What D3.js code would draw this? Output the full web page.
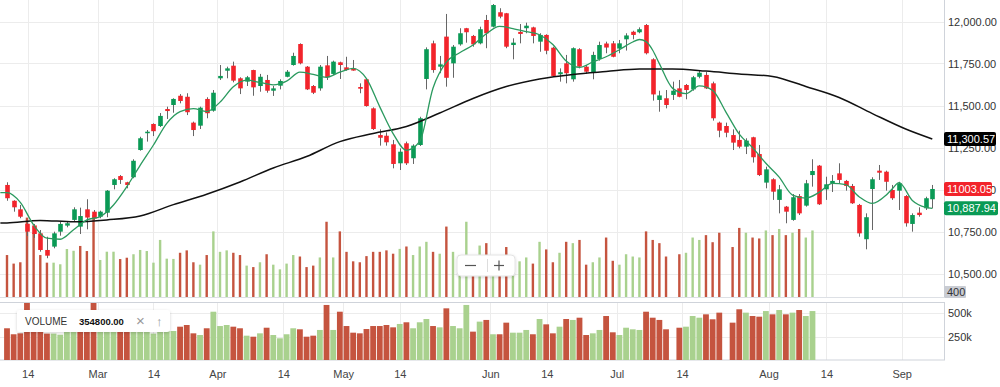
<!DOCTYPE html>
<html>
<head>
<meta charset="utf-8">
<script src="https://cdn.jsdelivr.net/npm/d3@7.9.0/dist/d3.min.js"></script>
<style>
  body { margin: 0; background: #fff; }
  svg { display: block; font-family: "Liberation Sans", Arial, sans-serif; }
</style>
</head>
<body>
<svg id="chart" width="1000" height="387"></svg>
<script>
const open = [
  11027, 10933, 10882, 10796, 10786, 10739, 10640, 10660, 10749, 10785,
  10819, 10779, 10882, 10868, 10838, 10862, 11027, 11080, 11043, 11073,
  11235, 11335, 11390, 11378, 11479, 11503, 11558, 11552, 11398, 11380,
  11539, 11469, 11662, 11707, 11737, 11662, 11642, 11711, 11616, 11652,
  11588, 11618, 11671, 11741, 11866, 11731, 11616, 11602, 11739, 11688,
  11757, 11727, 11721, 11610, 11656, 11483, 11324, 11320, 11269, 11156,
  11275, 11186, 11265, 11658, 11870, 11731, 11910, 11751, 11864, 11960,
  11914, 11870, 12009, 11969, 12055, 12049, 11860, 11938, 11960, 11965,
  11880, 11920, 11844, 11686, 11751, 11656, 11835, 11731, 11695, 11777,
  11869, 11870, 11839, 11894, 11939, 11936, 11979, 11775, 11533, 11543,
  11563, 11602, 11622, 11596, 11671, 11682, 11632, 11398, 11378, 11324,
  11295, 11255, 11311, 11211, 11041, 11061, 10938, 10898, 10819, 10961,
  10904, 11086, 11142, 11001, 11037, 11096, 11051, 11021, 10908, 10704,
  11003, 11112, 11106, 10997, 10993, 10961, 10795, 10862, 10888, 10942
];
const high = [
  11043, 10936, 10908, 10813, 10795, 10759, 10719, 10749, 10808, 10808,
  10894, 10892, 10942, 10878, 10874, 10997, 11067, 11086, 11046, 11180,
  11314, 11354, 11394, 11455, 11493, 11543, 11568, 11573, 11404, 11493,
  11549, 11592, 11741, 11731, 11761, 11668, 11676, 11713, 11688, 11682,
  11616, 11656, 11711, 11814, 11870, 11735, 11622, 11741, 11795, 11767,
  11761, 11790, 11771, 11632, 11660, 11489, 11358, 11340, 11295, 11245,
  11285, 11269, 11433, 11846, 11886, 11795, 12045, 11860, 11960, 11962,
  11920, 11969, 12039, 12104, 12079, 12051, 11900, 11985, 11993, 11969,
  11930, 11924, 11850, 11721, 11801, 11846, 11841, 11741, 11820, 11880,
  11880, 11884, 11890, 11930, 11945, 11965, 11985, 11781, 11588, 11592,
  11642, 11652, 11628, 11676, 11707, 11699, 11642, 11404, 11398, 11358,
  11350, 11305, 11314, 11265, 11136, 11067, 11027, 10902, 10973, 10973,
  11057, 11180, 11146, 11076, 11086, 11156, 11057, 11033, 10914, 10858,
  11073, 11146, 11112, 11027, 11046, 10967, 10858, 10894, 10957, 11027
];
const low = [
  10933, 10868, 10829, 10723, 10712, 10630, 10591, 10650, 10725, 10775,
  10808, 10735, 10763, 10819, 10829, 10835, 11001, 11033, 11007, 11067,
  11231, 11285, 11318, 11372, 11420, 11457, 11513, 11443, 11318, 11360,
  11424, 11463, 11652, 11662, 11638, 11568, 11616, 11558, 11582, 11576,
  11557, 11596, 11668, 11737, 11745, 11592, 11568, 11588, 11652, 11682,
  11658, 11707, 11707, 11573, 11493, 11354, 11261, 11261, 11126, 11116,
  11146, 11152, 11259, 11596, 11695, 11692, 11612, 11665, 11856, 11874,
  11850, 11864, 11841, 11965, 12019, 11841, 11775, 11870, 11930, 11870,
  11820, 11805, 11672, 11642, 11632, 11642, 11721, 11688, 11656, 11767,
  11811, 11787, 11811, 11827, 11894, 11930, 11804, 11529, 11463, 11483,
  11533, 11549, 11537, 11588, 11662, 11598, 11410, 11311, 11311, 11235,
  11245, 11211, 11160, 11080, 11007, 10938, 10858, 10799, 10814, 10848,
  10898, 11017, 10908, 10938, 10985, 11037, 10993, 10914, 10719, 10644,
  10759, 11057, 10993, 10938, 10878, 10779, 10749, 10838, 10878, 10888
];
const close = [
  10948, 10894, 10838, 10749, 10735, 10640, 10606, 10739, 10795, 10799,
  10882, 10842, 10833, 10827, 10868, 10993, 11061, 11057, 11027, 11171,
  11305, 11344, 11347, 11438, 11467, 11539, 11527, 11460, 11354, 11487,
  11454, 11576, 11676, 11721, 11648, 11602, 11668, 11608, 11671, 11588,
  11602, 11646, 11701, 11795, 11751, 11596, 11576, 11731, 11668, 11761,
  11741, 11711, 11708, 11600, 11497, 11360, 11308, 11281, 11152, 11225,
  11156, 11261, 11424, 11835, 11711, 11745, 11665, 11850, 11930, 11936,
  11864, 11954, 11930, 12098, 12029, 11850, 11874, 11926, 11975, 11914,
  11920, 11826, 11676, 11698, 11692, 11841, 11731, 11701, 11801, 11860,
  11845, 11790, 11870, 11917, 11920, 11954, 11811, 11566, 11560, 11503,
  11588, 11552, 11592, 11668, 11695, 11602, 11424, 11350, 11338, 11279,
  11255, 11291, 11192, 11086, 11120, 10987, 11001, 10868, 10954, 10858,
  11037, 11110, 10912, 11031, 11051, 11057, 11021, 10918, 10739, 10835,
  11061, 11100, 11046, 10948, 11037, 10799, 10848, 10848, 10948, 11003.05
];
// volume in thousands, null where no bar is drawn
const volumeK = [
  340, 276, 286, 620, 505, 340, 283, 283, 271, 385,
  372, 408, 370, 640, 303, 365, 365, 310, 320, 346,
  378, 370, 283, 453, 313, 311, 357, 375, 286, 268,
  340, 517, 364, 375, 357, 340, 261, 250, 286, 346,
  268, 233, 276, 340, 329, 250, 261, 322, 589, 322,
  517, 364, 293, 286, 332, 364, 364, 375, 350, 386,
  404, 340, 404, 439, 364, 350, 553, 364, 340, 589,
  304, 411, 429, 276, 276, 400, 293, 293, 322, 276,
  439, 382, 286, 357, 439, 429, 453, 268, 286, 322,
  471, 297, 268, 346, 329, 322, 517, 453, 429, 329,
  null, 346, 357, 471, 453, 489, 436, 507, null, 400,
  543, 507, 471, 464, 524, 489, 535, 489, 507, 535,
  471, 524
];

// short moving average (green), read at bar indices
const fastIdx = [-1, 0, 2, 4, 6, 8, 10, 12, 14, 16, 18, 20, 22, 24, 26, 28, 30, 32, 34, 36, 38,
  40, 42, 44, 46, 48, 50, 52, 54, 56, 58, 60, 62, 64, 66, 68, 70, 72, 74, 76, 78,
  80, 82, 84, 86, 88, 90, 92, 94, 95, 96, 97, 98, 100, 102, 104, 106, 108, 110, 112, 114, 116, 118,
  120, 122, 124, 126, 128, 130, 132, 133, 134, 136, 138, 139];
const fastVal = [10981, 10981, 10923, 10789, 10710, 10704, 10760, 10819, 10839, 10908, 11017, 11144, 11265, 11394, 11464, 11481, 11464, 11520, 11612, 11651, 11637,
  11623, 11645, 11699, 11685, 11668, 11698, 11721, 11660, 11492, 11333, 11233, 11286, 11604, 11758, 11814, 11860, 11927, 11971, 11958, 11940,
  11921, 11863, 11765, 11727, 11759, 11790, 11832, 11878, 11893, 11880, 11829, 11749, 11602, 11571, 11617, 11590, 11461, 11329, 11249, 11156, 11074, 10967,
  10949, 10983, 11037, 11029, 10957, 10917, 10964, 11005, 11041, 10935, 10894, 10887.94];

// long moving average (black)
const slowIdx = [-1, 0, 5, 10, 15, 20, 25, 30, 35, 40, 45, 50, 55, 60, 65, 70, 75, 80, 85, 90,
  95, 100, 105, 110, 115, 120, 125, 130, 135, 139];
const slowVal = [10800, 10801, 10816, 10808, 10819, 10842, 10910, 10972, 11045, 11128, 11196, 11285, 11333, 11375, 11455, 11542, 11613, 11658, 11685, 11702,
  11717, 11717, 11705, 11688, 11673, 11613, 11548, 11452, 11360, 11300.57];

const priceTicks = [10500, 10750, 11000, 11250, 11500, 11750, 12000];
const volTicks = [250, 500];
const timeTickIdx = [3.1, 13.6, 22.0, 31.6, 41.5, 50.5, 59.0, 72.6, 81.1, 91.6, 101.4, 114.4, 123.1, 134.4];
const timeTickLabels = ['14', 'Mar', '14', 'Apr', '14', 'May', '14', 'Jun', '14', 'Jul', '14', 'Aug', '14', 'Sep'];

const plotRight = 944;
const mainBottom = 297;
const volTop = 303;
const volBottom = 360;

const upCandle = '#0a9a55';
const downCandle = '#f2242b';
const upVol = '#a9d18e';
const downVol = '#c5543f';

const svg = d3.select('#chart');

let x = d3.scaleLinear().domain([0, close.length - 1]).range([7, 932.3]);
let y = d3.scaleLinear().domain([10500, 12000]).range([273.5, 21.5]);
let vOverlay = d3.scaleLinear().domain([0, 650]).range([300.5, 213.6]);
let vPane = d3.scaleLinear().domain([0, 500]).range([360.1, 313.3]);

let bars = close.map((c, i) => ({
  i, o: open[i], h: high[i], l: low[i], c,
  v: volumeK[i] == null ? null : volumeK[i],
  volUp: i === 0 ? c >= open[i] : c >= close[i - 1]
}));

let defs = svg.append('defs');
defs.append('clipPath').attr('id', 'clip-main')
  .append('rect').attr('x', 0).attr('y', 0).attr('width', plotRight).attr('height', mainBottom);
defs.append('clipPath').attr('id', 'clip-vol')
  .append('rect').attr('x', 0).attr('y', volTop).attr('width', plotRight).attr('height', volBottom - volTop);
let shadow = defs.append('filter').attr('id', 'shadow').attr('x', '-20%').attr('y', '-40%').attr('width', '140%').attr('height', '180%');
shadow.append('feDropShadow').attr('dx', 0).attr('dy', 1).attr('stdDeviation', 1.5).attr('flood-color', '#000').attr('flood-opacity', 0.18);

// grid
let grid = svg.append('g').attr('stroke', '#ececec').attr('stroke-width', 1);
grid.selectAll('.hg').data(priceTicks).join('line')
  .attr('x1', 0).attr('x2', plotRight)
  .attr('y1', d => Math.round(y(d)) + 0.5).attr('y2', d => Math.round(y(d)) + 0.5);
grid.selectAll('.vg').data(timeTickIdx).join('line')
  .attr('x1', d => Math.round(x(d)) + 0.5).attr('x2', d => Math.round(x(d)) + 0.5)
  .attr('y1', 0).attr('y2', mainBottom);
grid.selectAll('.vg2').data(timeTickIdx).join('line')
  .attr('x1', d => Math.round(x(d)) + 0.5).attr('x2', d => Math.round(x(d)) + 0.5)
  .attr('y1', volTop).attr('y2', volBottom);
grid.selectAll('.hv').data(volTicks).join('line')
  .attr('x1', 0).attr('x2', plotRight)
  .attr('y1', d => Math.round(vPane(d)) + 0.5).attr('y2', d => Math.round(vPane(d)) + 0.5);

let main = svg.append('g').attr('clip-path', 'url(#clip-main)');

// volume underlay in the price pane
main.append('g').selectAll('rect').data(bars.filter(d => d.v != null)).join('rect')
  .attr('x', d => x(d.i) - 1.2)
  .attr('width', 2.4)
  .attr('y', d => vOverlay(d.v))
  .attr('height', d => mainBottom - vOverlay(d.v))
  .attr('fill', d => d.volUp ? upVol : downVol);

// candles
main.append('g').selectAll('line').data(bars).join('line')
  .attr('x1', d => Math.round(x(d.i)) + 0.5).attr('x2', d => Math.round(x(d.i)) + 0.5)
  .attr('y1', d => y(d.h)).attr('y2', d => y(d.l))
  .attr('stroke', '#666').attr('stroke-width', 1);
main.append('g').selectAll('rect').data(bars).join('rect')
  .attr('x', d => Math.round(x(d.i)) + 0.5 - 2.3)
  .attr('width', 4.6)
  .attr('y', d => y(Math.max(d.o, d.c)))
  .attr('height', d => Math.max(1.2, Math.abs(y(d.o) - y(d.c))))
  .attr('fill', d => d.c >= d.o ? upCandle : downCandle);

// moving averages
let line = d3.line().x(d => x(d[0])).y(d => y(d[1])).curve(d3.curveMonotoneX);
main.append('path').datum(slowIdx.map((k, j) => [k, slowVal[j]]))
  .attr('d', line).attr('fill', 'none').attr('stroke', '#111').attr('stroke-width', 1.5);
main.append('path').datum(fastIdx.map((k, j) => [k, fastVal[j]]))
  .attr('d', line).attr('fill', 'none').attr('stroke', '#2b9a5f').attr('stroke-width', 1.3);

// pane borders
svg.append('line').attr('x1', plotRight + 0.5).attr('x2', plotRight + 0.5).attr('y1', 0).attr('y2', mainBottom)
  .attr('stroke', '#cfd3da');
svg.append('line').attr('x1', 0).attr('x2', plotRight).attr('y1', mainBottom + 0.5).attr('y2', mainBottom + 0.5)
  .attr('stroke', '#dde0e5');
svg.append('rect').attr('x', -1).attr('y', volTop - 0.5).attr('width', plotRight + 1.5).attr('height', volBottom - volTop + 0.5)
  .attr('fill', 'none').attr('stroke', '#cfd3da');

// volume pane bars
svg.append('g').attr('clip-path', 'url(#clip-vol)')
  .selectAll('rect').data(bars.filter(d => d.v != null)).join('rect')
  .attr('x', d => x(d.i) - 2.9)
  .attr('width', 5.8)
  .attr('y', d => vPane(d.v))
  .attr('height', d => volBottom - vPane(d.v))
  .attr('fill', d => d.volUp ? upVol : downVol);

// price axis
let yAxis = svg.append('g').attr('transform', `translate(${plotRight},0)`)
  .call(d3.axisRight(y).tickValues(priceTicks).tickFormat(d3.format(',.2f')).tickSize(0).tickPadding(4));
yAxis.select('.domain').remove();
yAxis.selectAll('text').attr('font-size', 11).attr('fill', '#333').attr('font-family', null);

let vAxis = svg.append('g').attr('transform', `translate(${plotRight},0)`)
  .call(d3.axisRight(vPane).tickValues(volTicks).tickFormat(d => d + 'k').tickSize(0).tickPadding(4));
vAxis.select('.domain').remove();
vAxis.selectAll('text').attr('font-size', 11).attr('fill', '#333').attr('font-family', null);

let xAxis = svg.append('g').attr('transform', 'translate(0,370)')
  .call(d3.axisBottom(x).tickValues(timeTickIdx).tickFormat((d, k) => timeTickLabels[k]).tickSize(0).tickPadding(0));
xAxis.select('.domain').remove();
xAxis.selectAll('text').attr('font-size', 11).attr('fill', '#444').attr('font-family', null);

// last value tags
let tags = [
  { v: slowVal[slowVal.length - 1], text: d3.format(',.2f')(slowVal[slowVal.length - 1]), fill: '#000', w: 52 },
  { v: close[close.length - 1], text: d3.format('.2f')(close[close.length - 1]), fill: '#f2242b', w: 48 },
  { v: fastVal[fastVal.length - 1], text: d3.format(',.2f')(fastVal[fastVal.length - 1]), fill: '#0a9a55', w: 54 }
];
let tag = svg.append('g').selectAll('g').data(tags).join('g')
  .attr('transform', d => `translate(${plotRight},${y(d.v)})`);
tag.append('rect').attr('x', 0).attr('y', -7).attr('width', d => d.w).attr('height', 14).attr('rx', 2)
  .attr('fill', d => d.fill);
tag.append('text').attr('x', 3).attr('dy', '0.35em').attr('font-size', 11).attr('fill', '#fff')
  .text(d => d.text);

let vTag = svg.append('g').attr('transform', `translate(${plotRight},${mainBottom - 5})`);
vTag.append('rect').attr('x', 0).attr('y', -6).attr('width', 22).attr('height', 12).attr('rx', 1).attr('fill', '#c9ccd3');
vTag.append('text').attr('x', 3).attr('dy', '0.35em').attr('font-size', 11).attr('fill', '#333').text('400');

// zoom control
let zc = svg.append('g').attr('transform', 'translate(457,255)');
zc.append('rect').attr('width', 58).attr('height', 21).attr('rx', 4).attr('fill', '#fff')
  .attr('stroke', '#e4e4e4').attr('filter', 'url(#shadow)');
zc.append('line').attr('x1', 30.5).attr('x2', 30.5).attr('y1', 4).attr('y2', 17).attr('stroke', '#ddd');
zc.append('line').attr('x1', 8).attr('x2', 19).attr('y1', 10.5).attr('y2', 10.5).attr('stroke', '#555').attr('stroke-width', 1.2);
zc.append('line').attr('x1', 37).attr('x2', 47).attr('y1', 10.5).attr('y2', 10.5).attr('stroke', '#555').attr('stroke-width', 1.2);
zc.append('line').attr('x1', 42).attr('x2', 42).attr('y1', 5.5).attr('y2', 15.5).attr('stroke', '#555').attr('stroke-width', 1.2);

// study legend
let lg = svg.append('g').attr('transform', 'translate(17,310)');
lg.append('rect').attr('width', 153).attr('height', 22).attr('rx', 3).attr('fill', '#fff').attr('filter', 'url(#shadow)');
lg.append('text').attr('x', 8).attr('y', 15).attr('font-size', 10).attr('fill', '#333').text('VOLUME');
lg.append('text').attr('x', 62).attr('y', 15).attr('font-size', 9.5).attr('font-weight', 'bold').attr('fill', '#111').text('354800.00');
lg.append('text').attr('x', 119).attr('y', 16).attr('font-size', 15).attr('fill', '#999').text('×');
lg.append('text').attr('x', 139).attr('y', 16).attr('font-size', 13).attr('fill', '#999').text('↑');
</script>
</body>
</html>
